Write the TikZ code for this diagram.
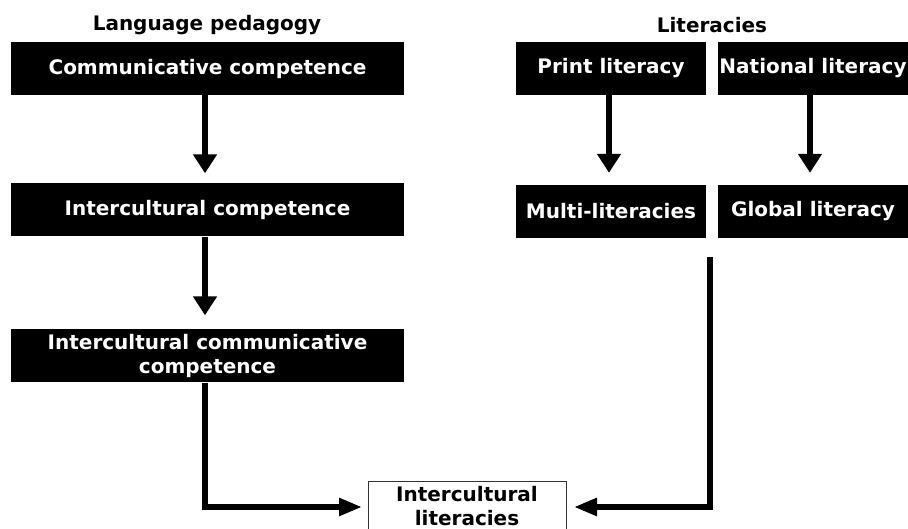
\documentclass[tikz,border=0pt]{standalone}
\usepackage{fontspec}
\setmainfont{DejaVu Sans}
\usetikzlibrary{arrows.meta}
\begin{document}
\begin{tikzpicture}[x=1pt,y=-1pt,
  every node/.style={font=\bfseries\fontsize{20}{24.5}\selectfont},
  blackbox/.style={fill=black,text=white,inner sep=0pt,align=center,minimum height=53pt},
  widebox/.style={blackbox,minimum width=393pt},
  smallbox/.style={blackbox,minimum width=190pt},
  title/.style={text=black,inner sep=0pt},
  whitebox/.style={draw=black!80,line width=1pt,fill=white,align=center,inner xsep=0pt,inner ysep=4.5pt,minimum width=198pt,text depth=60pt},
  vconn/.style={line width=5.5pt,-{Triangle[width=23pt,length=19pt]}},
  hconn/.style={line width=5.5pt,-{Triangle[width=17pt,length=23pt]}}]
\useasboundingbox (0,0) rectangle (908,529);
\clip (0,0) rectangle (908,529);
\fill[white] (0,0) rectangle (908,529);

\node[title] (lp) at (207,25) {Language pedagogy};
\node[title] (lit) at (712,25) {Literacies};

\node[widebox] (cc) at (207.5,68.5) {Communicative competence};
\node[widebox] (ic) at (207.5,210) {Intercultural competence};
\node[widebox] (icc) at (207.5,356) {Intercultural communicative\\competence};

\node[smallbox] (pl) at (611,68.5) {Print literacy};
\node[smallbox] (nl) at (813,68.5) {National literacy};
\node[smallbox] (ml) at (611,211.5) {Multi-literacies};
\node[smallbox] (gl) at (813,211.5) {Global literacy};

\node[whitebox,anchor=north] (ilit) at (467,481) {Intercultural\\literacies};

\coordinate (inL) at (368,507);
\coordinate (inR) at (566,507);
\coordinate (rtop) at (710,257);

\draw[vconn,shorten >=10pt] (cc.south -| 205,0) -- (ic.north -| 205,0);
\draw[vconn,shorten >=14pt] (ic.south -| 205,0) -- (icc.north -| 205,0);
\draw[vconn,shorten >=12pt] (pl.south -| 609,0) -- (ml.north -| 609,0);
\draw[vconn,shorten >=12pt] (nl.south -| 810,0) -- (gl.north -| 810,0);

\draw[hconn,shorten >=6pt] (icc.south -| 205,0) |- (inL);
\draw[hconn,shorten >=8pt] (rtop) |- (inR);
\end{tikzpicture}
\end{document}
